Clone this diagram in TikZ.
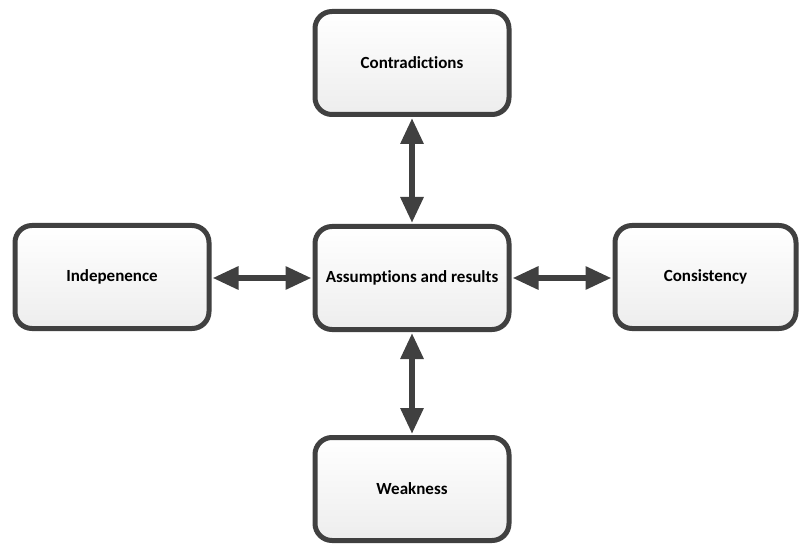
\documentclass[tikz,border=0pt]{standalone}
\usepackage{fontspec}
\setmainfont[Ligatures={NoCommon}]{Carlito}
\usetikzlibrary{arrows.meta,shadows}
\definecolor{edge}{HTML}{404040}
\tikzset{
  box/.style={draw=edge, line width=5pt, rounded corners=17pt,
    top color=white, bottom color=black!7,
    minimum width=194pt, minimum height=103pt,
    font=\bfseries\fontsize{17pt}{20pt}\selectfont,
    drop shadow={shadow xshift=2pt, shadow yshift=-2pt, opacity=0.15, fill=black}},
  link/.style={draw=edge, line width=6pt,
    {Triangle[length=26pt,width=22pt]}-{Triangle[length=26pt,width=22pt]}, shorten <=1pt, shorten >=1pt}
}
\begin{document}
\begin{tikzpicture}[x=1pt,y=1pt]
\useasboundingbox (0,0) rectangle (800,544);
\node[box] (c) at (412,266) {Assumptions and results};
\node[box] (t) at (412,481) {Contradictions};
\node[box] (b) at (412,55) {Weakness};
\node[box] (l) at (112,267) {Indepenence};
\node[box, minimum width=181pt] (r) at (705.5,267) {Consistency};
\draw[link] (t) -- (c);
\draw[link] (c) -- (b);
\draw[link] (l.east |- c) -- (c);
\draw[link] (c) -- (r.west |- c);
\end{tikzpicture}
\end{document}
